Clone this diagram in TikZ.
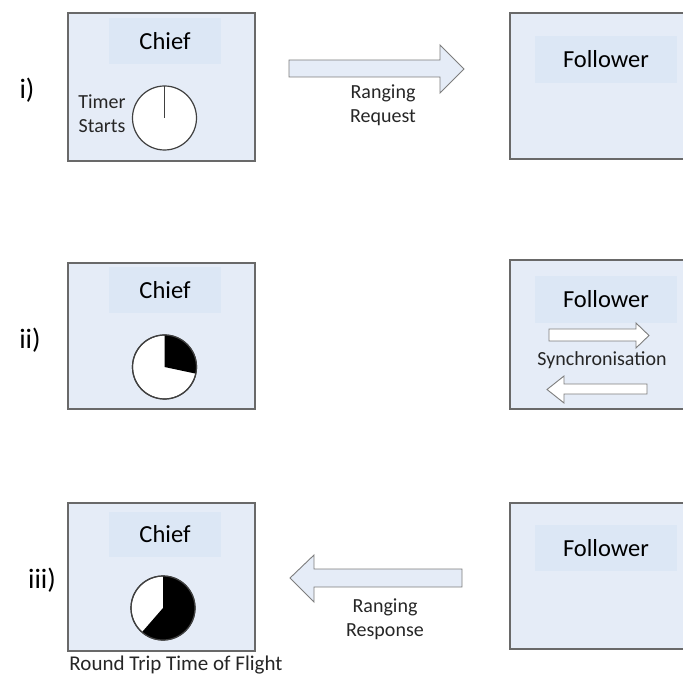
\documentclass[tikz,border=0pt]{standalone}
\usepackage{fontspec}
\setmainfont{Carlito}
\definecolor{boxfill}{RGB}{229,236,247}
\definecolor{labfill}{RGB}{220,231,245}
\definecolor{boxline}{RGB}{105,105,105}
\definecolor{arrline}{RGB}{125,125,125}
\begin{document}
\begin{tikzpicture}[x=1pt,y=-1pt,
  box/.style={draw=boxline,fill=boxfill,line width=1.4pt,inner sep=0pt},
  lab/.style={fill=labfill,inner sep=0pt,font=\fontsize{24.5}{28}\selectfont,text=black},
  small/.style={font=\fontsize{20}{24}\selectfont,align=center,text=black!85,inner sep=0pt},
  step label/.style={font=\fontsize{28}{32}\selectfont,inner sep=0pt},
  blockarrow/.style={draw=arrline,fill=boxfill,line width=0.9pt,line join=miter},
  syncarrow/.style={draw=arrline,fill=white,line width=0.9pt,line join=miter},
  clock/.style={draw=black!75,line width=1.2pt}]
\clip (0,0) rectangle (683,676);
\useasboundingbox (0,0) rectangle (683,676);

% step labels
\node[step label] (l1) at (27,90) {i)};
\node[step label] (l2) at (30,340) {ii)};
\node[step label] (l3) at (42,580) {iii)};

% chief boxes
\node[box,minimum width=187pt,minimum height=148pt] (c1) at (161.5,87) {};
\node[box,minimum width=187pt,minimum height=146pt] (c2) at (161.5,336) {};
\node[box,minimum width=187pt,minimum height=148pt] (c3) at (161.5,577) {};
\node[lab,minimum width=112pt,minimum height=46pt] (cl1) at (165,41) {Chief};
\node[lab,minimum width=112pt,minimum height=46pt] (cl2) at (165,290) {Chief};
\node[lab,minimum width=112pt,minimum height=45pt] (cl3) at (165,534.5) {Chief};

% follower boxes
\node[box,minimum width=190pt,minimum height=146pt] (f1) at (605,86) {};
\node[box,minimum width=190pt,minimum height=149pt] (f2) at (605,334.5) {};
\node[box,minimum width=190pt,minimum height=146pt] (f3) at (605,576) {};
\node[lab,minimum width=142pt,minimum height=47pt] (fl1) at (606,59.5) {Follower};
\node[lab,minimum width=142pt,minimum height=47pt] (fl2) at (606,299.5) {Follower};
\node[lab,minimum width=142pt,minimum height=46pt] (fl3) at (606,548) {Follower};

% timers (y axis points down, so screen angles are negated)
\coordinate (t1) at (164.5,118);
\draw[clock,fill=white] (t1) circle[radius=32];
\draw[clock] (t1) -- ++(0,-32);
\node[small] (ts) at (102,113.5) {Timer\\Starts};

\coordinate (t2) at (164.5,367);
\draw[clock,fill=white] (t2) circle[radius=32];
\fill[black] (t2) -- ++(-90:32) arc[start angle=-90,end angle=12,radius=32] -- cycle;
\draw[clock] (t2) circle[radius=32];

\coordinate (t3) at (163,608);
\draw[clock,fill=white] (t3) circle[radius=32];
\fill[black] (t3) -- ++(-90:32) arc[start angle=-90,end angle=131,radius=32] -- cycle;
\draw[clock] (t3) circle[radius=32];
\node[small,font=\fontsize{21}{24}\selectfont] (rt) at (176,665) {Round Trip Time of Flight};

% ranging request arrow
\draw[blockarrow] (289,60) -- (440,60) -- (440,45) -- (464,69) -- (440,93) -- (440,77) -- (289,77) -- cycle;
\node[small] (rq) at (383,105.5) {Ranging\\Request};

% synchronisation arrows
\draw[syncarrow] (549,329) -- (636,329) -- (636,323) -- (649,335.5) -- (636,348) -- (636,341) -- (549,341) -- cycle;
\node[small] (sy) at (602,360) {Synchronisation};
\draw[syncarrow] (647,384) -- (564,384) -- (564,376) -- (547,389.5) -- (564,403) -- (564,394) -- (647,394) -- cycle;

% ranging response arrow
\draw[blockarrow] (462,569) -- (314,569) -- (314,555) -- (290,578) -- (314,602) -- (314,587) -- (462,587) -- cycle;
\node[small] (rs) at (385,619) {Ranging\\Response};
\end{tikzpicture}
\end{document}
